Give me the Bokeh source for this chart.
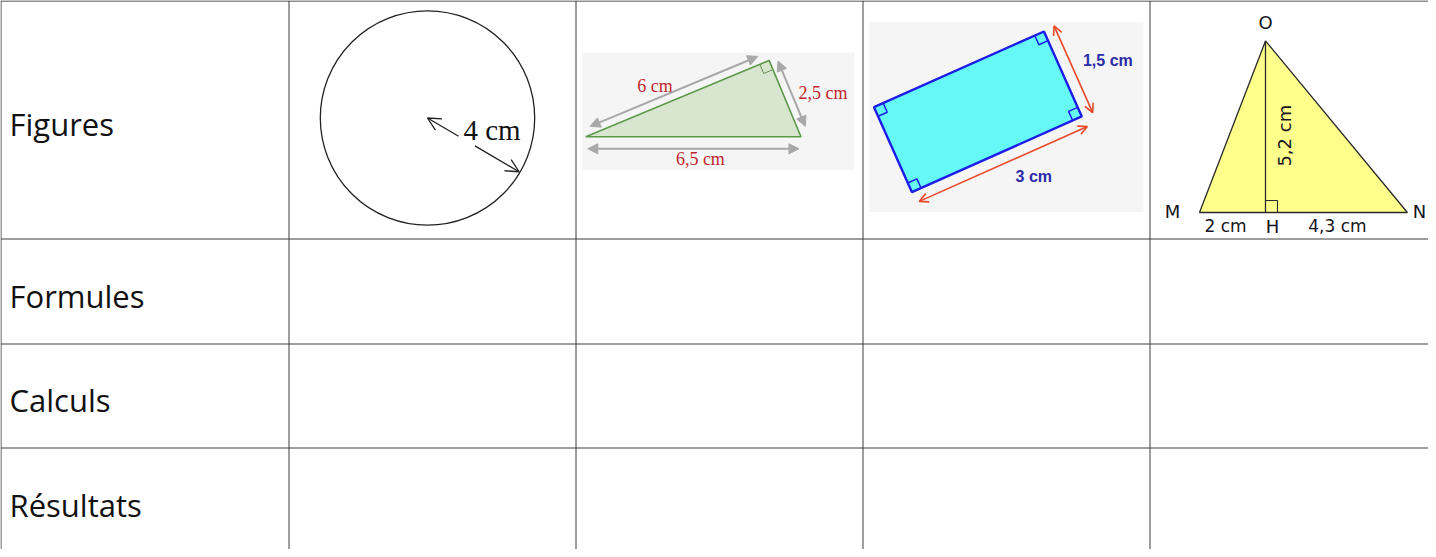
import numpy as np
from bokeh.plotting import figure
from bokeh.models import Range1d, Arrow, OpenHead, NormalHead
from bokeh.core.properties import value
from bokeh.embed import file_html
from bokeh.resources import INLINE

# ---------------- data ----------------
row_labels = ["Figures", "Formules", "Calculs", "Résultats"]
col_edges = [8.5, 296.5, 583.5, 870.5, 1157.5]
row_edges = [8.5, 246.5, 351.5, 455.5, 560.5]

circle_radius_cm = [4]
circle_label = ["4 cm"]

right_tri_sides_cm = [6, 2.5, 6.5]          # leg a, leg b, hypotenuse
right_tri_labels = ["6 cm", "2,5 cm", "6,5 cm"]

rect_sides_cm = [3, 1.5]                    # length, width
rect_labels = ["3 cm", "1,5 cm"]

omn_lengths_cm = [2, 4.3, 5.2]              # MH, HN, OH
omn_labels = ["2 cm", "4,3 cm", "5,2 cm"]
omn_points = ["O", "M", "N", "H"]

# ---------------- figure ----------------
W, H = 1428, 549
p = figure(width=W, height=H, x_range=Range1d(8, 8 + W), y_range=Range1d(8 + H, 8),
           output_backend="svg", toolbar_location=None, min_border=0,
           x_axis_location=None, y_axis_location=None)
p.xgrid.visible = False
p.ygrid.visible = False
p.outline_line_color = None
p.background_fill_color = "white"
p.border_fill_color = "white"

def unit(v):
    v = np.asarray(v, dtype=float)
    return v / np.hypot(*v)

def label(x, y, txt, font, size, color, align="center", baseline="middle", style="normal", angle=0.0):
    p.text(x=[x], y=[y], text=[txt], text_font=value(font), text_font_size=size,
           text_color=color, text_align=align, text_baseline=baseline,
           text_font_style=style, angle=angle)

# ---------------- table ----------------
xr = 8 + W + 10
p.segment(x0=col_edges, y0=[row_edges[0]] * len(col_edges), x1=col_edges,
          y1=[row_edges[-1] + 5] * len(col_edges), line_color="#3c3c3c", line_width=1)
p.segment(x0=[col_edges[0]], y0=[row_edges[0]], x1=[xr], y1=[row_edges[0]],
          line_color="#1e1e1e", line_width=1.2)
for i, ye in enumerate(row_edges[1:-1]):
    p.segment(x0=[col_edges[0]], y0=[ye], x1=[xr], y1=[ye], line_color="#3c3c3c", line_width=1)

for i, lab in enumerate(row_labels):
    yc = (row_edges[i] + row_edges[i + 1]) / 2
    label(col_edges[0] + 8.5, yc + 4, lab, "Open Sans", "31px", "#111111",
          align="left", baseline="middle")

# ---------------- circle ----------------
cx, cy = 435.0, 125.5
sc_c = 26.8
r = circle_radius_cm[0] * sc_c
p.circle(x=[cx], y=[cy], radius=[r], fill_color=None, line_color="#222222", line_width=1.3)
u = np.array([np.cos(np.radians(30.4)), np.sin(np.radians(30.4))])
a1 = np.array([cx, cy]); a2 = a1 + 36 * u
b1 = a1 + 55 * u;       b2 = a1 + (r - 1) * u
p.add_layout(Arrow(start=OpenHead(size=13, line_width=1.3, line_color="#222222"), end=None,
                   x_start=a1[0], y_start=a1[1], x_end=a2[0], y_end=a2[1],
                   line_color="#222222", line_width=1.3))
p.add_layout(Arrow(end=OpenHead(size=13, line_width=1.3, line_color="#222222"),
                   x_start=b1[0], y_start=b1[1], x_end=b2[0], y_end=b2[1],
                   line_color="#222222", line_width=1.3))
label(cx + 36, cy + 11.5, circle_label[0], "Liberation Serif", "29px", "#111111",
      align="left", baseline="middle")

# ---------------- right triangle (green) ----------------
p.quad(left=[590], right=[862], top=[60], bottom=[177.5], fill_color="#f5f5f5", line_color=None)
sc_t = 33.1
la, lb, lc = right_tri_sides_cm
Lp = np.array([593.3, 144.3])
Rp = Lp + np.array([lc * sc_t, 0])
Tp = Lp + np.array([la * la / lc * sc_t, -la * lb / lc * sc_t])
p.patch(x=[Lp[0], Tp[0], Rp[0]], y=[Lp[1], Tp[1], Rp[1]], fill_color="#d9e6cf",
        line_color="#5b9a48", line_width=1.6)
u1 = unit(Lp - Tp); u2 = unit(Rp - Tp)
sq = [Tp + 10 * u1, Tp + 10 * u1 + 10 * u2, Tp + 10 * u2]
p.line(x=[q[0] for q in sq], y=[q[1] for q in sq], line_color="#6a8a5a", line_width=1)
centroid_ref = [(Lp + Rp + Tp) / 3]

def offset_arrow(P, Q, off, ins0, ins1, color, width, head_fn):
    d = unit(Q - P)
    n = np.array([-d[1], d[0]])
    mid = (P + Q) / 2
    if np.dot(n, mid - centroid_ref[0]) < 0:
        n = -n
    s = P + d * ins0 + n * off
    e = Q - d * ins1 + n * off
    p.add_layout(Arrow(start=head_fn(), end=head_fn(), x_start=s[0], y_start=s[1],
                       x_end=e[0], y_end=e[1], line_color=color, line_width=width))
    return d, n, mid

gray = "#a8a8a8"
gray_head = lambda: NormalHead(size=10, fill_color=gray, line_color=gray, line_width=1)
d1, n1, m1 = offset_arrow(Lp, Tp, 8, 8, 9, gray, 2, gray_head)
d2, n2, m2 = offset_arrow(Tp, Rp, 8, 4, 8, gray, 2, gray_head)
d3, n3, m3 = offset_arrow(Lp, Rp, 12, 2, 2, gray, 2, gray_head)
red = "#c1272d"
pt = m1 + 20 * n1 - 16 * d1
label(pt[0], pt[1], right_tri_labels[0], "Liberation Serif", "18px", red)
label(m2[0] + 38, m2[1] - 6, right_tri_labels[1], "Liberation Serif", "18px", red)
label(m3[0] + 7, m3[1] + 22, right_tri_labels[2], "Liberation Serif", "18px", red)

# ---------------- rectangle ----------------
p.quad(left=[877], right=[1151], top=[29.5], bottom=[219.5], fill_color="#f5f5f5", line_color=None)
sc_r = 62
Lr, Sr = rect_sides_cm[0] * sc_r, rect_sides_cm[1] * sc_r
rc = np.array([985.4, 119.3])
ang = np.radians(24)
el = np.array([np.cos(ang), -np.sin(ang)])
es = np.array([np.sin(ang), np.cos(ang)])
A = rc - Lr / 2 * el - Sr / 2 * es
B = rc + Lr / 2 * el - Sr / 2 * es
C = rc + Lr / 2 * el + Sr / 2 * es
D = rc - Lr / 2 * el + Sr / 2 * es
blue = "#1d1de8"
p.patch(x=[A[0], B[0], C[0], D[0]], y=[A[1], B[1], C[1], D[1]], fill_color="#66f7f7",
        line_color=blue, line_width=2.4)
corners = [A, B, C, D]
for k, V in enumerate(corners):
    P1 = corners[(k - 1) % 4]; P2 = corners[(k + 1) % 4]
    w1 = unit(P1 - V); w2 = unit(P2 - V)
    s = 10
    pts = [V + s * w1, V + s * w1 + s * w2, V + s * w2]
    p.line(x=[q[0] for q in pts], y=[q[1] for q in pts], line_color=blue, line_width=1.5)
orange = "#e8492a"
red_head = lambda: OpenHead(size=9, line_color=orange, line_width=1.6)
centroid_ref[0] = rc
dr1, nr1, mr1 = offset_arrow(B, C, 11.5, -1, -1, orange, 1.6, red_head)
dr2, nr2, mr2 = offset_arrow(D, C, 11.5, 3, -1, orange, 1.6, red_head)
navy = "#2b2ba8"
label(mr1[0] + 45, mr1[1] - 13, rect_labels[1], "Liberation Sans", "16px", navy, style="bold")
label(mr2[0] + 37, mr2[1] + 22, rect_labels[0], "Liberation Sans", "16px", navy, style="bold")

# ---------------- triangle OMN ----------------
sc_o = 33
M = np.array([1207.0, 220.0])
Hh = M + np.array([omn_lengths_cm[0] * sc_o, 0])
N = Hh + np.array([omn_lengths_cm[1] * sc_o, 0])
O = Hh - np.array([0, omn_lengths_cm[2] * sc_o])
dark = "#2a2a2a"
p.patch(x=[O[0], M[0], N[0]], y=[O[1], M[1], N[1]], fill_color="#ffff8c",
        line_color=dark, line_width=1.3)
p.line(x=[O[0], Hh[0]], y=[O[1], Hh[1]], line_color=dark, line_width=1.3)
p.line(x=[Hh[0], Hh[0] + 12, Hh[0] + 12], y=[Hh[1] - 12, Hh[1] - 12, Hh[1]],
       line_color=dark, line_width=1.1)
fnt = "DejaVu Sans"
txtc = "#151520"
label(O[0], O[1] - 18, omn_points[0], fnt, "18px", txtc)
label(M[0] - 27, M[1] - 1, omn_points[1], fnt, "18px", txtc)
label(N[0] + 12, N[1] - 1, omn_points[2], fnt, "18px", txtc)
label(Hh[0] + 7, Hh[1] + 14, omn_points[3], fnt, "18px", txtc)
label((M[0] + Hh[0]) / 2 - 7, M[1] + 13, omn_labels[0], fnt, "17px", txtc)
label((Hh[0] + N[0]) / 2 + 1, M[1] + 13, omn_labels[1], fnt, "17px", txtc)
label(Hh[0] + 19, (O[1] + Hh[1]) / 2 + 9, omn_labels[2], fnt, "18px", txtc, angle=np.pi / 2)

open("out.html", "w").write(file_html(p, INLINE))
